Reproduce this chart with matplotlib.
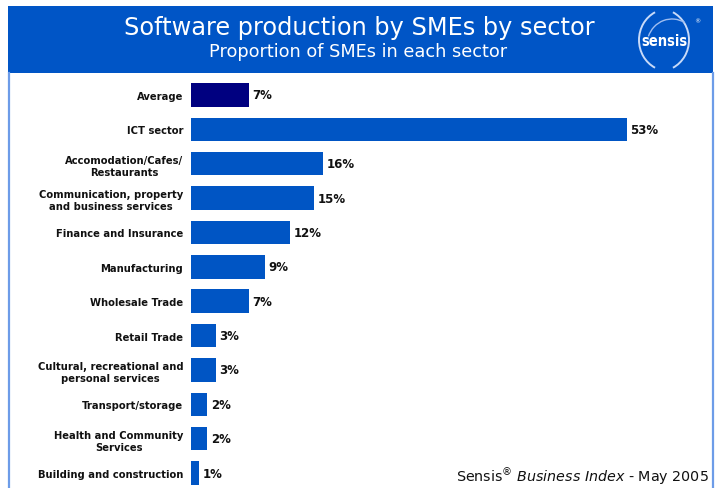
import matplotlib.pyplot as plt
from matplotlib.patches import Rectangle, Arc

plt.rcParams['mathtext.fontset'] = 'dejavusans'

sectors = [
    "Average",
    "ICT sector",
    "Accomodation/Cafes/\nRestaurants",
    "Communication, property\nand business services",
    "Finance and Insurance",
    "Manufacturing",
    "Wholesale Trade",
    "Retail Trade",
    "Cultural, recreational and\npersonal services",
    "Transport/storage",
    "Health and Community\nServices",
    "Building and construction",
]
shares = [7, 53, 16, 15, 12, 9, 7, 3, 3, 2, 2, 1]

header_blue = "#0055C6"
bar_blue = "#0055C4"
avg_navy = "#000080"
border_blue = "#6D9CE8"

W, H = 716, 489
fig = plt.figure(figsize=(W / 100, H / 100), dpi=100)

# page frame, header band and logo drawn in pixel coordinates
bg = fig.add_axes([0, 0, 1, 1])
bg.set_xlim(0, W)
bg.set_ylim(H, 0)
bg.axis("off")
bg.add_patch(Rectangle((8, 7), 705, 67, color=header_blue, lw=0))
bg.plot([8.5, 8.5], [74, H], color=border_blue, lw=1.6)
bg.plot([712.5, 712.5], [74, H], color=border_blue, lw=1.6)
bg.text(359, 28, "Software production by SMEs by sector", color="white",
        fontsize=17.3, ha="center", va="center")
bg.text(358, 52, "Proportion of SMEs in each sector", color="white",
        fontsize=12.8, ha="center", va="center")

# sensis logo
bg.text(664, 41, "sensis", color="white", fontsize=10.5, fontweight="bold",
        ha="center", va="center", fontstretch="condensed")
bg.add_patch(Arc((668, 41), 58, 62, theta1=115, theta2=245,
                 color="#C8DAF8", lw=1.4))
bg.add_patch(Arc((660, 41), 58, 62, theta1=-65, theta2=65,
                 color="#C8DAF8", lw=1.4))
bg.add_patch(Arc((672, 46), 50, 52, theta1=200, theta2=300,
                 color="#9FBDF0", lw=1.0))
bg.text(697, 22, "®", color="white", fontsize=4.5, ha="center", va="center")

bg.text(709, 477,
        r"Sensis$^{\mathrm{®}}$ $\it{Business\ Index}$ - May 2005",
        fontsize=10.3, ha="right", va="center", color="#111111")

# bar chart area: x from 191px (0%) to 626.7px (53%)
step = 34.4
top_px = 96 - step / 2
ax = fig.add_axes([191 / W, 0, (626.7 - 191) / W, 1 - top_px / H])
ax.set_xlim(0, 53)
ax.set_ylim(11.5 - (474 + step / 2 - H) / step, -0.5)

y = list(range(len(sectors)))
colors = [avg_navy] + [bar_blue] * (len(sectors) - 1)
ax.barh(y, shares, height=0.68, color=colors)
for yi, v in zip(y, shares):
    ax.text(v + 0.45, yi, f"{v}%", fontsize=8.5, fontweight="bold",
            va="center", ha="left", color="#111111")

ax.set_yticks(y)
labels = ax.set_yticklabels(sectors, fontsize=7.2, fontweight="bold",
                            linespacing=1.25, color="#111111")
for lab in labels:
    lab.set_multialignment("center")
ax.tick_params(axis="y", length=0, pad=5.5)
ax.set_xticks([])
for s in ax.spines.values():
    s.set_visible(False)
ax.patch.set_alpha(0)

fig.savefig("out.png", dpi=100)
